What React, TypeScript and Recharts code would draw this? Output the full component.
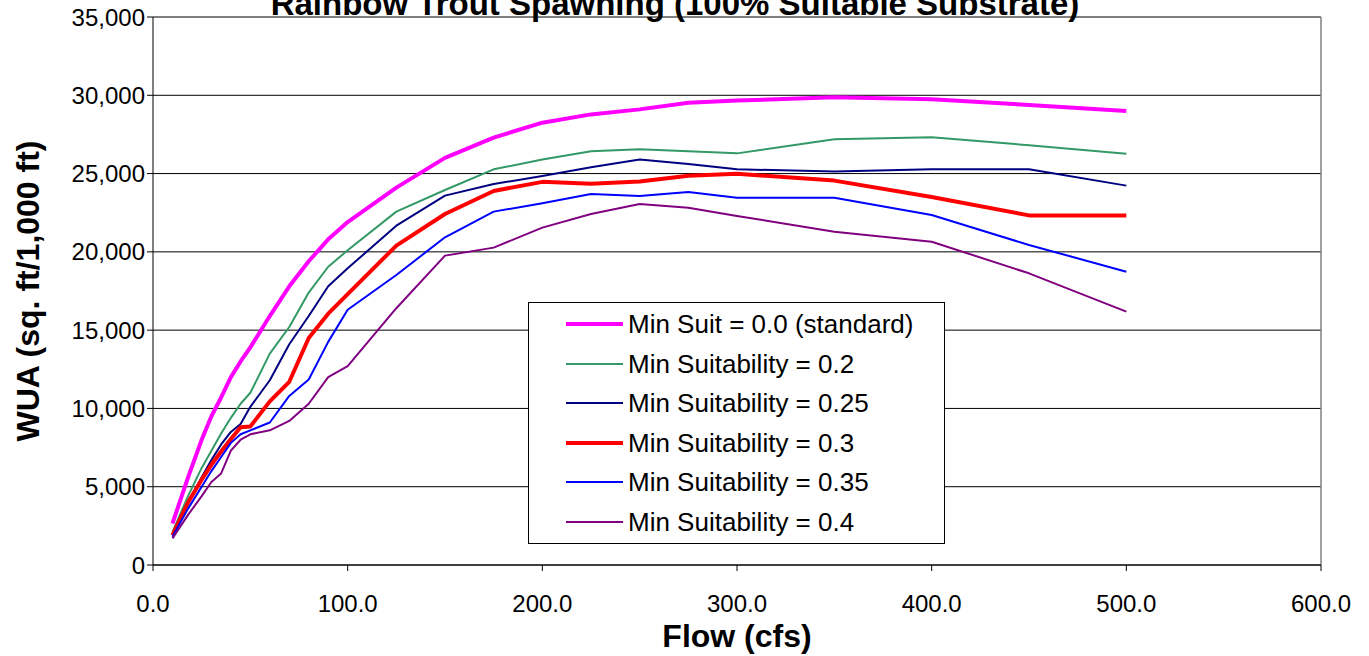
import React from 'react';
import {
  LineChart,
  Line,
  XAxis,
  YAxis,
  CartesianGrid,
  ReferenceLine,
} from 'recharts';

const FONT = 'Arial, "Liberation Sans", sans-serif';

// Flow (cfs) sample points
const flows = [10, 18, 25, 30, 35, 40, 45, 50, 60, 70, 80, 90, 100, 125, 150, 175, 200, 225, 250, 275, 300, 350, 400, 450, 500];

// WUA (sq. ft/1,000 ft) per minimum suitability
const minSuit00 = [2650, 5600, 8000, 9500, 10700, 12000, 13000, 13900, 15900, 17800, 19400, 20800, 21900, 24100, 26000, 27300, 28250, 28780, 29100, 29530, 29660, 29870, 29740, 29380, 29000];
const minSuit020 = [2100, 4400, 6200, 7300, 8400, 9400, 10300, 11000, 13500, 15200, 17400, 19050, 20100, 22570, 23950, 25270, 25900, 26420, 26550, 26420, 26290, 27190, 27320, 26810, 26270];
const minSuit025 = [1950, 4000, 5600, 6700, 7700, 8500, 9000, 10100, 11800, 14100, 15900, 17800, 18950, 21670, 23590, 24330, 24850, 25400, 25900, 25610, 25270, 25140, 25270, 25270, 24230];
const minSuit030 = [1900, 4000, 5450, 6400, 7250, 8050, 8800, 8850, 10450, 11700, 14500, 16050, 17300, 20400, 22420, 23890, 24470, 24350, 24500, 24860, 24990, 24550, 23500, 22330, 22330];
const minSuit035 = [1800, 3600, 5000, 6000, 6900, 7800, 8350, 8600, 9100, 10800, 11850, 14250, 16300, 18520, 20930, 22570, 23100, 23700, 23570, 23820, 23460, 23460, 22350, 20440, 18730];
const minSuit040 = [1700, 3200, 4400, 5300, 5850, 7300, 8000, 8350, 8600, 9200, 10300, 12000, 12700, 16400, 19760, 20270, 21550, 22420, 23060, 22820, 22290, 21290, 20650, 18630, 16180];

const yTicks = [0, 5000, 10000, 15000, 20000, 25000, 30000, 35000];
const xTicks = [0, 100, 200, 300, 400, 500, 600];

const series = [
  { key: 's00', name: 'Min Suit = 0.0 (standard)', color: '#FF00FF', width: 4, values: minSuit00 },
  { key: 's020', name: 'Min Suitability = 0.2', color: '#339966', width: 2, values: minSuit020 },
  { key: 's025', name: 'Min Suitability = 0.25', color: '#000080', width: 2, values: minSuit025 },
  { key: 's030', name: 'Min Suitability = 0.3', color: '#FF0000', width: 4, values: minSuit030 },
  { key: 's035', name: 'Min Suitability = 0.35', color: '#0000FF', width: 2, values: minSuit035 },
  { key: 's040', name: 'Min Suitability = 0.4', color: '#800080', width: 2, values: minSuit040 },
];

const data = flows.map((flow, i) => {
  const row: Record<string, number> = { flow };
  series.forEach(s => { row[s.key] = s.values[i]; });
  return row;
});

const YTitle = (props: any) => {
  const vb = props.viewBox || { x: 0, y: 17, height: 548 };
  const cx = 39;
  const cy = vb.y + vb.height / 2;
  return (
    <text x={cx} y={cy} transform={`rotate(-90 ${cx} ${cy})`} textAnchor="middle"
      fontFamily={FONT} fontWeight={700} fontSize={32} fill="#000">
      WUA (sq. ft/1,000 ft)
    </text>
  );
};

const XTitle = (props: any) => {
  const vb = props.viewBox || { x: 153, y: 565, width: 1168 };
  return (
    <text x={vb.x + vb.width / 2} y={647} textAnchor="middle"
      fontFamily={FONT} fontWeight={700} fontSize={32} fill="#000">
      Flow (cfs)
    </text>
  );
};

export default function App() {
  return (
    <div style={{ position: 'absolute', left: 0, top: 0, width: 1369, height: 656, background: '#fff', overflow: 'hidden' }}>
      <LineChart width={1369} height={656} data={data} margin={{ top: 17, right: 48, bottom: 0, left: 0 }}>
        <CartesianGrid horizontal vertical={false} stroke="#000" strokeWidth={1} />
        <XAxis
          dataKey="flow"
          type="number"
          domain={[0, 600]}
          ticks={xTicks}
          tickFormatter={(v: number) => v.toFixed(1)}
          height={91}
          tickSize={6}
          tickMargin={24}
          axisLine={{ stroke: '#000' }}
          tickLine={{ stroke: '#000' }}
          tick={{ fill: '#000', fontSize: 24, fontFamily: FONT }}
          interval={0}
          label={{ content: XTitle }}
        />
        <YAxis
          type="number"
          domain={[0, 35000]}
          ticks={yTicks}
          tickFormatter={(v: number) => v.toLocaleString('en-US')}
          width={153}
          tickSize={6}
          tickMargin={2}
          axisLine={{ stroke: '#000' }}
          tickLine={{ stroke: '#000' }}
          tick={{ fill: '#000', fontSize: 24, fontFamily: FONT }}
          interval={0}
          label={{ content: YTitle }}
        />
        <ReferenceLine x={600} stroke="#808080" strokeWidth={1.5} />
        {series.map(s => (
          <Line
            key={s.key}
            type="linear"
            dataKey={s.key}
            name={s.name}
            stroke={s.color}
            strokeWidth={s.width}
            dot={false}
            activeDot={false}
            strokeLinejoin="round"
            isAnimationActive={false}
          />
        ))}
      </LineChart>

      {/* chart title, clipped at the top edge like the original */}
      <svg width={1369} height={40} style={{ position: 'absolute', left: 0, top: 0, pointerEvents: 'none' }}>
        <text x={675} y={15} textAnchor="middle" fontFamily={FONT} fontWeight={700} fontSize={33} fill="#000">
          Rainbow Trout Spawning (100% Suitable Substrate)
        </text>
      </svg>

      {/* legend box */}
      <div style={{
        position: 'absolute', left: 528, top: 302, width: 417, height: 242,
        background: '#fff', border: '1px solid #000', boxSizing: 'border-box',
      }}>
        {series.map((s, i) => (
          <div key={s.key} style={{ position: 'absolute', left: 0, top: 21 + i * 39.6 - 20, height: 40, display: 'flex', alignItems: 'center' }}>
            <svg width={99} height={40} style={{ display: 'block' }}>
              <line x1={37} x2={94} y1={20} y2={20} stroke={s.color} strokeWidth={s.width} />
            </svg>
            <span style={{ fontFamily: FONT, fontSize: 26, color: '#000', whiteSpace: 'nowrap', lineHeight: '40px' }}>{s.name}</span>
          </div>
        ))}
      </div>
    </div>
  );
}
